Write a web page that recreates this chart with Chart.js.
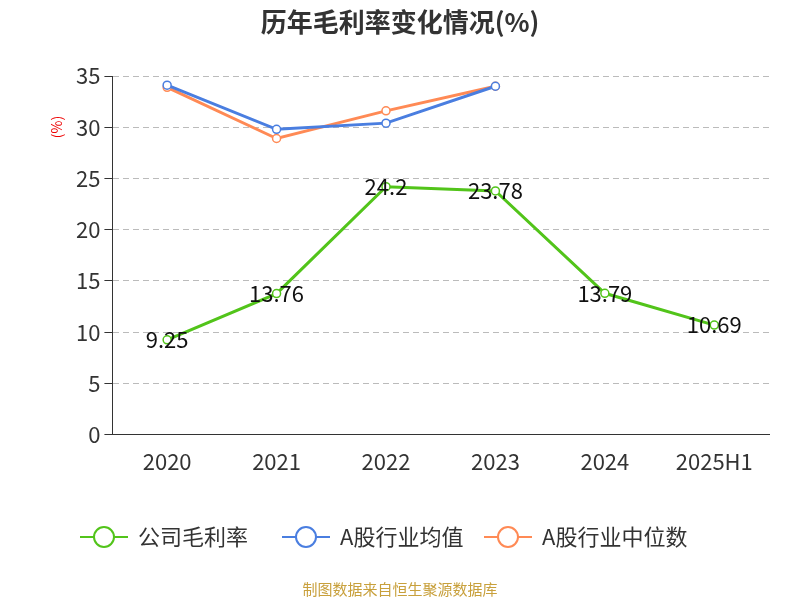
<!DOCTYPE html>
<html><head><meta charset="utf-8">
<script src="https://cdn.jsdelivr.net/npm/chart.js@4/dist/chart.umd.min.js"></script>
<style>body{margin:0;background:#fff}#w{width:800px;height:600px;position:relative}</style>
</head><body><div id="w"><canvas id="c" width="800" height="600"></canvas></div>
<script>
const categories=["2020","2021","2022","2023","2024","2025H1"];
const company=[9.25,13.76,24.2,23.78,13.79,10.69];
const industryAvg=[34.1,29.8,30.4,34.0,null,null];
const industryMed=[33.9,28.9,31.6,34.0,null,null];
const yTicks=[0,5,10,15,20,25,30,35];
const F='"Noto Sans CJK SC","Noto Sans",sans-serif';
const labelPlugin={id:'lbl',afterDatasetsDraw(ch){const ctx=ch.ctx;const m=ch.getDatasetMeta(0);ctx.save();ctx.font='22px '+F;ctx.fillStyle='#111';ctx.textAlign='center';ctx.textBaseline='middle';m.data.forEach((p,i)=>{ctx.fillText(String(company[i]),p.x,p.y);});ctx.restore();}};
const bgPlugin={id:'bg',afterDraw(ch){const ctx=ch.ctx;ctx.save();ctx.font='bold 26px '+F;ctx.fillStyle='#333';ctx.textAlign='center';ctx.fillText('历年毛利率变化情况(%)',400,32);ctx.font='15px '+F;ctx.fillStyle='#c8a03c';ctx.fillText('制图数据来自恒生聚源数据库',400,595);
ctx.save();ctx.translate(62,127);ctx.rotate(-Math.PI/2);ctx.fillStyle='#e00';ctx.font='14px '+F;ctx.fillText('(%)',0,0);ctx.restore();
// legend
const items=[[80,'公司毛利率','#52c41a'],[282,'A股行业均值','#4a7ee0'],[484,'A股行业中位数','#ff8a55']];
ctx.textAlign='left';ctx.textBaseline='middle';ctx.font='22px '+F;
items.forEach(([x,t,c])=>{ctx.strokeStyle=c;ctx.lineWidth=2;ctx.beginPath();ctx.moveTo(x,537);ctx.lineTo(x+48,537);ctx.stroke();ctx.beginPath();ctx.arc(x+24,537,10,0,Math.PI*2);ctx.fillStyle='#fff';ctx.fill();ctx.stroke();ctx.fillStyle='#333';ctx.fillText(t,x+58,537);});
ctx.restore();}};
const ds=(l,d,c)=>({label:l,data:d,borderColor:c,backgroundColor:'#fff',pointBorderColor:c,pointBackgroundColor:'#fff',borderWidth:3,pointRadius:4,pointBorderWidth:1.5,tension:0,spanGaps:false});
new Chart(document.getElementById('c'),{type:'line',data:{labels:categories,datasets:[ds('公司毛利率',company,'#52c41a'),ds('A股行业均值',industryAvg,'#4a7ee0'),ds('A股行业中位数',industryMed,'#ff8a55')]},
options:{responsive:false,animation:false,layout:{padding:{top:76,left:72,right:31,bottom:119}},
plugins:{legend:{display:false},tooltip:{enabled:false}},
scales:{x:{offset:true,grid:{display:false},border:{color:'#333'},ticks:{font:{size:22,family:F},color:'#333',padding:6}},
y:{min:0,max:35,afterBuildTicks(a){a.ticks=yTicks.map(v=>({value:v}));},grid:{color:'#bbb',tickColor:'#333',tickLength:8},border:{display:true,color:'#333',dash:[6,4]},ticks:{font:{size:22,family:F},color:'#333',padding:4}}}},
plugins:[labelPlugin,bgPlugin]});
</script></body></html>
